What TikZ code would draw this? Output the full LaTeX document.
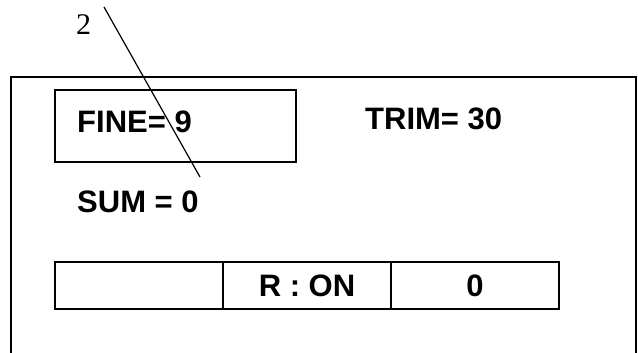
\documentclass[tikz,border=0pt]{standalone}
\usepackage{fontspec}
\setmainfont{Liberation Serif}
\setsansfont{Liberation Sans}
\usetikzlibrary{positioning}

\begin{document}
\begin{tikzpicture}[x=1pt, y=1pt,
     node distance = 0pt and 0pt,
       lbl/.style = {font=\sffamily\bfseries\fontsize{31}{31}\selectfont, inner sep=0pt, anchor=base west},
       cell/.style = {rectangle, draw, line width=1.4pt, minimum width=168pt, minimum height=47pt,
                      outer sep=0pt, inner sep=0pt, font=\sffamily\bfseries\fontsize{31}{31}\selectfont},
       fbox/.style = {rectangle, draw, line width=1.4pt, minimum width=241pt, minimum height=72pt, outer sep=0pt}
                        ]
\useasboundingbox (0,0) rectangle (638,353);
% outer frame, open at the bottom
\draw[line width=2pt] (11,0) |- (636,276) -- (636,0);
\node (finebox) [fbox] at (175.5,227) {};
\node (fine) [lbl] at (77,220) {FINE= 9};
\node (trim) [lbl] at (365,223) {TRIM= 30};
\node (sum)  [lbl] at (77,140) {SUM = 0};
\node (c1) [cell] at (139,67.5) {};
\node (c2) [cell,right =of c1] {R : ON};
\node (c3) [cell,right =of c2] {0};
% leader with its number
\node (two) [font=\fontsize{30}{30}\selectfont, inner sep=0pt, anchor=base west] at (76,318) {2};
\coordinate (leadtop) at (104,346);
\coordinate (leadend) at (200,176);
\draw[line width=1.2pt] (leadtop) -- (leadend);
\end{tikzpicture}
\end{document}
